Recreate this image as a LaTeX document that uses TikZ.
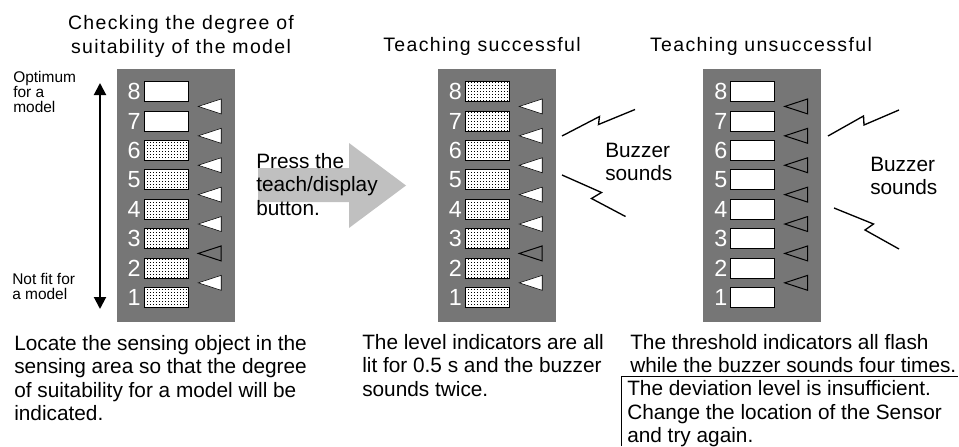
\documentclass[tikz,border=0pt]{standalone}
\usepackage{fontspec}
\setmainfont{Liberation Sans}
\newfontfamily\titlefont[LetterSpace=7]{Liberation Sans}
\usepackage{tikz}
\usetikzlibrary{arrows.meta, calc, patterns}
\usepackage{xcolor}
\definecolor{arrowgray}{RGB}{192,192,192}
\definecolor{panelgray}{RGB}{118,118,118}
\pgfdeclarepatternformonly{litdots}{\pgfpointorigin}{\pgfqpoint{2.25pt}{2.25pt}}{\pgfqpoint{2.25pt}{2.25pt}}{%
  \pgfpathrectangle{\pgfpointorigin}{\pgfqpoint{0.9pt}{0.9pt}}%
  \pgfusepath{fill}}
\tikzset{
  panel/.style={
    rectangle, inner sep=0pt,
    minimum width=88.5pt, minimum height=189.75pt,
    fill=panelgray
  },
  offbox/.style={
    rectangle, inner sep=0pt,
    minimum width=33pt, minimum height=15pt,
    draw=black, line width=0.75pt, fill=white
  },
  litbox/.style={
    offbox, fill=none,
    preaction={fill=white}, pattern=litdots
  },
  digit/.style={text=white, inner sep=0pt, font=\fontsize{17.5}{17.5}\selectfont},
  littri/.style={fill=white},
  holtri/.style={draw=black, line width=0.75pt},
  heading/.style={inner sep=0pt, anchor=north, align=center,
    font=\titlefont\fontsize{14.6}{18}\selectfont},
  body/.style={inner sep=0pt, anchor=north west, align=left,
    font=\fontsize{15.6}{17.5}\selectfont},
  small/.style={inner sep=0pt, anchor=north west, align=left,
    font=\fontsize{11.6}{11.25}\selectfont},
  scalearrow/.style={{Triangle[length=9pt,width=9pt]}-{Triangle[length=9pt,width=9pt]}, line width=1.5pt},
  bolt/.style={line width=1pt},
}
\begin{document}
\begin{tikzpicture}[x=0.75pt, y=-0.75pt]
  \useasboundingbox (0,0) rectangle (959,446);

  % three indicator panels
  \node[panel] (pa) at (175.5,195.5) {};
  \node[panel] (pb) at (496.5,195.5) {};
  \node[panel] (pc) at (762,195.5) {};

  % checking the degree of suitability
  \foreach \k/\st in {8/offbox,7/offbox,6/litbox,5/litbox,4/litbox,3/litbox,2/litbox,1/litbox} {
    \node[digit] (pa-n\k) at ($(pa.north west)+(18,{23+(8-\k)*29.4})$) {\k};
    \node[\st] (pa-b\k) at ($(pa.north west)+(50,{23+(8-\k)*29.4})$) {};
  }
  \foreach \g/\st in {1/littri,2/littri,3/littri,4/littri,5/littri,6/holtri,7/littri}
    \draw[\st] ($(pa.north west)+(82,{23+(\g-0.5)*29.4})$) -- ++(23,7.5) -- ++(0,-15) -- cycle;

  % teaching successful
  \foreach \k in {1,...,8} {
    \node[digit] (pb-n\k) at ($(pb.north west)+(18,{23+(8-\k)*29.4})$) {\k};
    \node[litbox] (pb-b\k) at ($(pb.north west)+(50,{23+(8-\k)*29.4})$) {};
  }
  \foreach \g/\st in {1/littri,2/littri,3/littri,4/littri,5/littri,6/holtri,7/littri}
    \draw[\st] ($(pb.north west)+(82,{23+(\g-0.5)*29.4})$) -- ++(23,7.5) -- ++(0,-15) -- cycle;

  % teaching unsuccessful
  \foreach \k in {1,...,8} {
    \node[digit] (pc-n\k) at ($(pc.north west)+(18,{23+(8-\k)*29.4})$) {\k};
    \node[offbox] (pc-b\k) at ($(pc.north west)+(50,{23+(8-\k)*29.4})$) {};
  }
  \foreach \g in {1,...,7}
    \draw[holtri] ($(pc.north west)+(82,{23+(\g-0.5)*29.4})$) -- ++(23,7.5) -- ++(0,-15) -- cycle;

  % headings
  \node[heading] (heada) at (181,15) {Checking the degree of\\suitability of the model};
  \node[heading] (headb) at (482,37) {Teaching successful};
  \node[heading] (headc) at (761,37) {Teaching unsuccessful};

  % scale on the left
  \coordinate (opttop) at (100,83);
  \coordinate (optbot) at (100,309);
  \draw[scalearrow] (opttop) -- (optbot);
  \node[small] (optlabel) at (13,71) {Optimum\\for a\\model};
  \node[small] (notfit) at (12,273) {Not fit for\\a model};

  % press arrow
  \fill[arrowgray] (258,168) -- (349,168) -- (349,143) -- (406,185.5)
    -- (349,228) -- (349,202) -- (258,202) -- cycle;
  \node[body] (press) at (256,153) {Press the\\teach/display\\button.};

  % buzzer
  \draw[bolt] (562,136) -- (599.5,116.5) -- (598.5,124.5) -- (635,109.5);
  \draw[bolt] (562,175) -- (601.5,192.5) -- (591.5,198.5) -- (625.5,216.5);
  \node[body] (buzzb) at (605,143) {Buzzer\\sounds};
  \draw[bolt] (828,136) -- (863.5,116) -- (864,125) -- (899,110);
  \draw[bolt] (834,208) -- (873.5,224) -- (865,230) -- (899,249);
  \node[body] (buzzc) at (870,157) {Buzzer\\sounds};

  % notes
  \node[body] (desca) at (14,335) {Locate the sensing object in the\\sensing area so that the degree\\of suitability for a model will be\\indicated.};
  \node[body] (descb) at (362,334) {The level indicators are all\\lit for 0.5 s and the buzzer\\sounds twice.};
  \node[body] (descc) at (630,334) {The threshold indicators all flash\\while the buzzer sounds four times.};
  \node[body] (advice) at (627,380.6) {The deviation level is insufficient.\\Change the location of the Sensor\\and try again.};
  \draw[line width=0.75pt] (621,446) |- (958,376);
\end{tikzpicture}
\end{document}
